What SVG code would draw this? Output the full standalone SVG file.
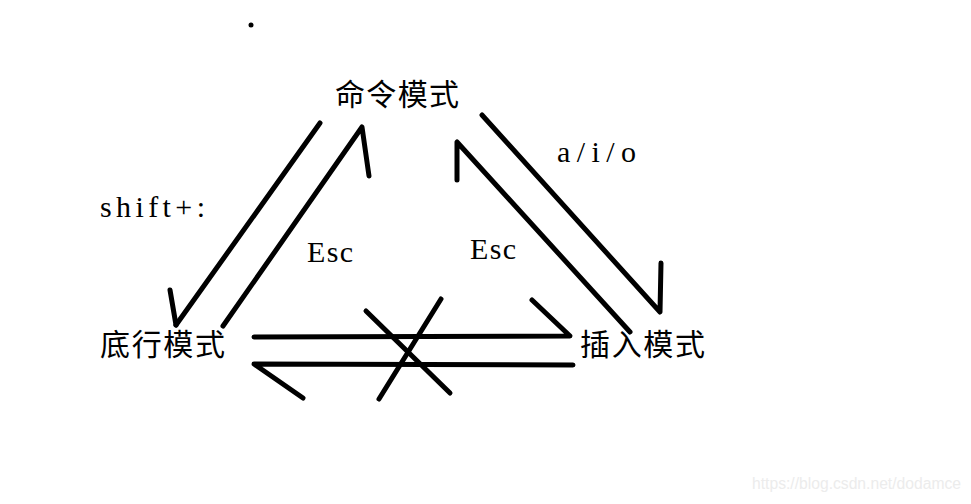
<svg xmlns="http://www.w3.org/2000/svg" width="971" height="504" viewBox="0 0 971 504">
<style>
.node{font-family:"Noto Sans CJK SC","Noto Sans CJK JP",sans-serif;font-size:30px;fill:#000}
.lbl{font-family:"Liberation Serif",serif;font-size:30px;fill:#000}
.ln{fill:none;stroke:#000;stroke-width:5;stroke-linecap:round;stroke-linejoin:round}
.wm{font-family:"Liberation Sans",Arial,sans-serif;font-size:16px;fill:#ececec}
</style>
<rect width="971" height="504" fill="#fff"/>
<circle cx="251" cy="25" r="2.5" fill="#000"/>
<g id="node-command"><text class="node" x="335" y="105" textLength="124" lengthAdjust="spacing">命令模式</text></g>
<g id="node-lastline"><text class="node" x="100" y="355" textLength="125" lengthAdjust="spacing">底行模式</text></g>
<g id="node-insert"><text class="node" x="580" y="355" textLength="125" lengthAdjust="spacing">插入模式</text></g>
<g id="connectors">
<polyline class="ln" points="320,123 176,325"/>
<polyline class="ln" points="170,290 176,325"/>
<polyline class="ln" points="223,326 362,127 369,176"/>
<polyline class="ln" points="482,115 660,312 661,263"/>
<polyline class="ln" points="630,332 457,142 457,180"/>
<polyline class="ln" points="254,337 570,336 532,300"/>
<polyline class="ln" points="573,365 254,364 303,398"/>
<line class="ln" x1="366" y1="311" x2="450" y2="393"/>
<line class="ln" x1="441" y1="299" x2="379" y2="399"/>
</g>
<g id="labels">
<text class="lbl" x="100" y="217" textLength="105" lengthAdjust="spacing">shift+:</text>
<text class="lbl" x="307" y="262" textLength="46" lengthAdjust="spacing">Esc</text>
<text class="lbl" x="470" y="259" textLength="46" lengthAdjust="spacing">Esc</text>
<text class="lbl" x="557" y="162" textLength="79" lengthAdjust="spacing">a/i/o</text>
</g>
<text class="wm" x="752" y="489" textLength="209" lengthAdjust="spacingAndGlyphs">https://blog.csdn.net/dodamce</text>
</svg>
